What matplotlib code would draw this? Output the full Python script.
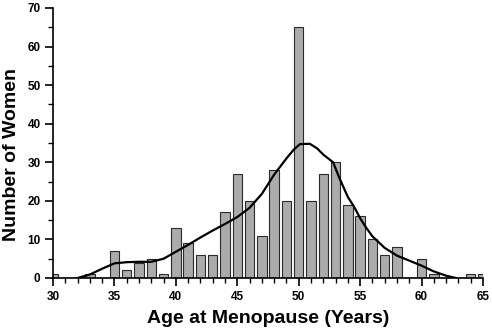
import matplotlib
matplotlib.use("Agg")
import matplotlib.pyplot as plt
from matplotlib.ticker import MultipleLocator

plt.rcParams['font.family'] = ['Liberation Sans', 'DejaVu Sans']
plt.rcParams['font.weight'] = 'bold'

# Histogram: age at menopause vs number of women
ages = list(range(30, 66))
counts = [1, 0, 0, 1, 0, 7, 2, 4, 5, 1,
          13, 9, 6, 6, 17, 27, 20, 11, 28, 20,
          65, 20, 27, 30, 19, 16, 10, 6, 8, 0,
          5, 1, 0, 0, 1, 1]

# Smoothed curve
curve_x = [32.0, 33, 34, 35, 36, 37, 38, 39, 40, 41, 42, 43, 44, 45, 46, 47, 48,
           49, 49.6, 50.1, 50.9, 51.5, 52, 52.8, 53.3, 54, 54.5, 55, 55.5, 56,
           57, 58, 59, 60, 61, 62, 62.8]
curve_y = [0, 0.9, 2.4, 3.8, 4.1, 4.2, 4.2, 5.0, 6.8, 8.6, 10.5, 12.3, 14.0, 15.8,
           18.2, 21.8, 26.8, 31.0, 33.3, 34.7, 34.8, 33.6, 32.0, 30.0, 26.0, 21.0,
           18.5, 15.5, 13.0, 10.8, 7.8, 5.8, 4.5, 3.2, 1.7, 0.6, 0]

fig = plt.figure(figsize=(4.92, 3.33), dpi=100)
ax = fig.add_axes([53/492, 55/333, 430/492, 270/333])

ax.bar(ages, counts, width=0.76, color='#ababab', edgecolor='#2a2a2a',
       linewidth=0.8, zorder=2)
ax.plot(curve_x, curve_y, color='black', linewidth=1.6, zorder=3)

ax.set_xlim(30, 65)
ax.set_ylim(0, 70)
ax.xaxis.set_major_locator(MultipleLocator(5))
ax.xaxis.set_minor_locator(MultipleLocator(1))
ax.yaxis.set_major_locator(MultipleLocator(10))
ax.yaxis.set_minor_locator(MultipleLocator(5))

ax.spines['top'].set_visible(False)
ax.spines['right'].set_visible(False)
for s in ['left', 'bottom']:
    ax.spines[s].set_linewidth(1.2)
ax.tick_params(which='major', length=6, width=1.2, labelsize=8.5, pad=3)
ax.tick_params(which='minor', length=3.5, width=1.0)

for lab in ax.get_xticklabels() + ax.get_yticklabels():
    lab.set_fontweight('bold')

ax.set_xlabel('Age at Menopause (Years)', fontsize=14, fontweight='bold')
ax.set_ylabel('Number of Women', fontsize=14, fontweight='bold')
ax.xaxis.set_label_coords(0.5, -0.12)
ax.yaxis.set_label_coords(-0.076, 0.456)

fig.savefig('out.png', dpi=100)
